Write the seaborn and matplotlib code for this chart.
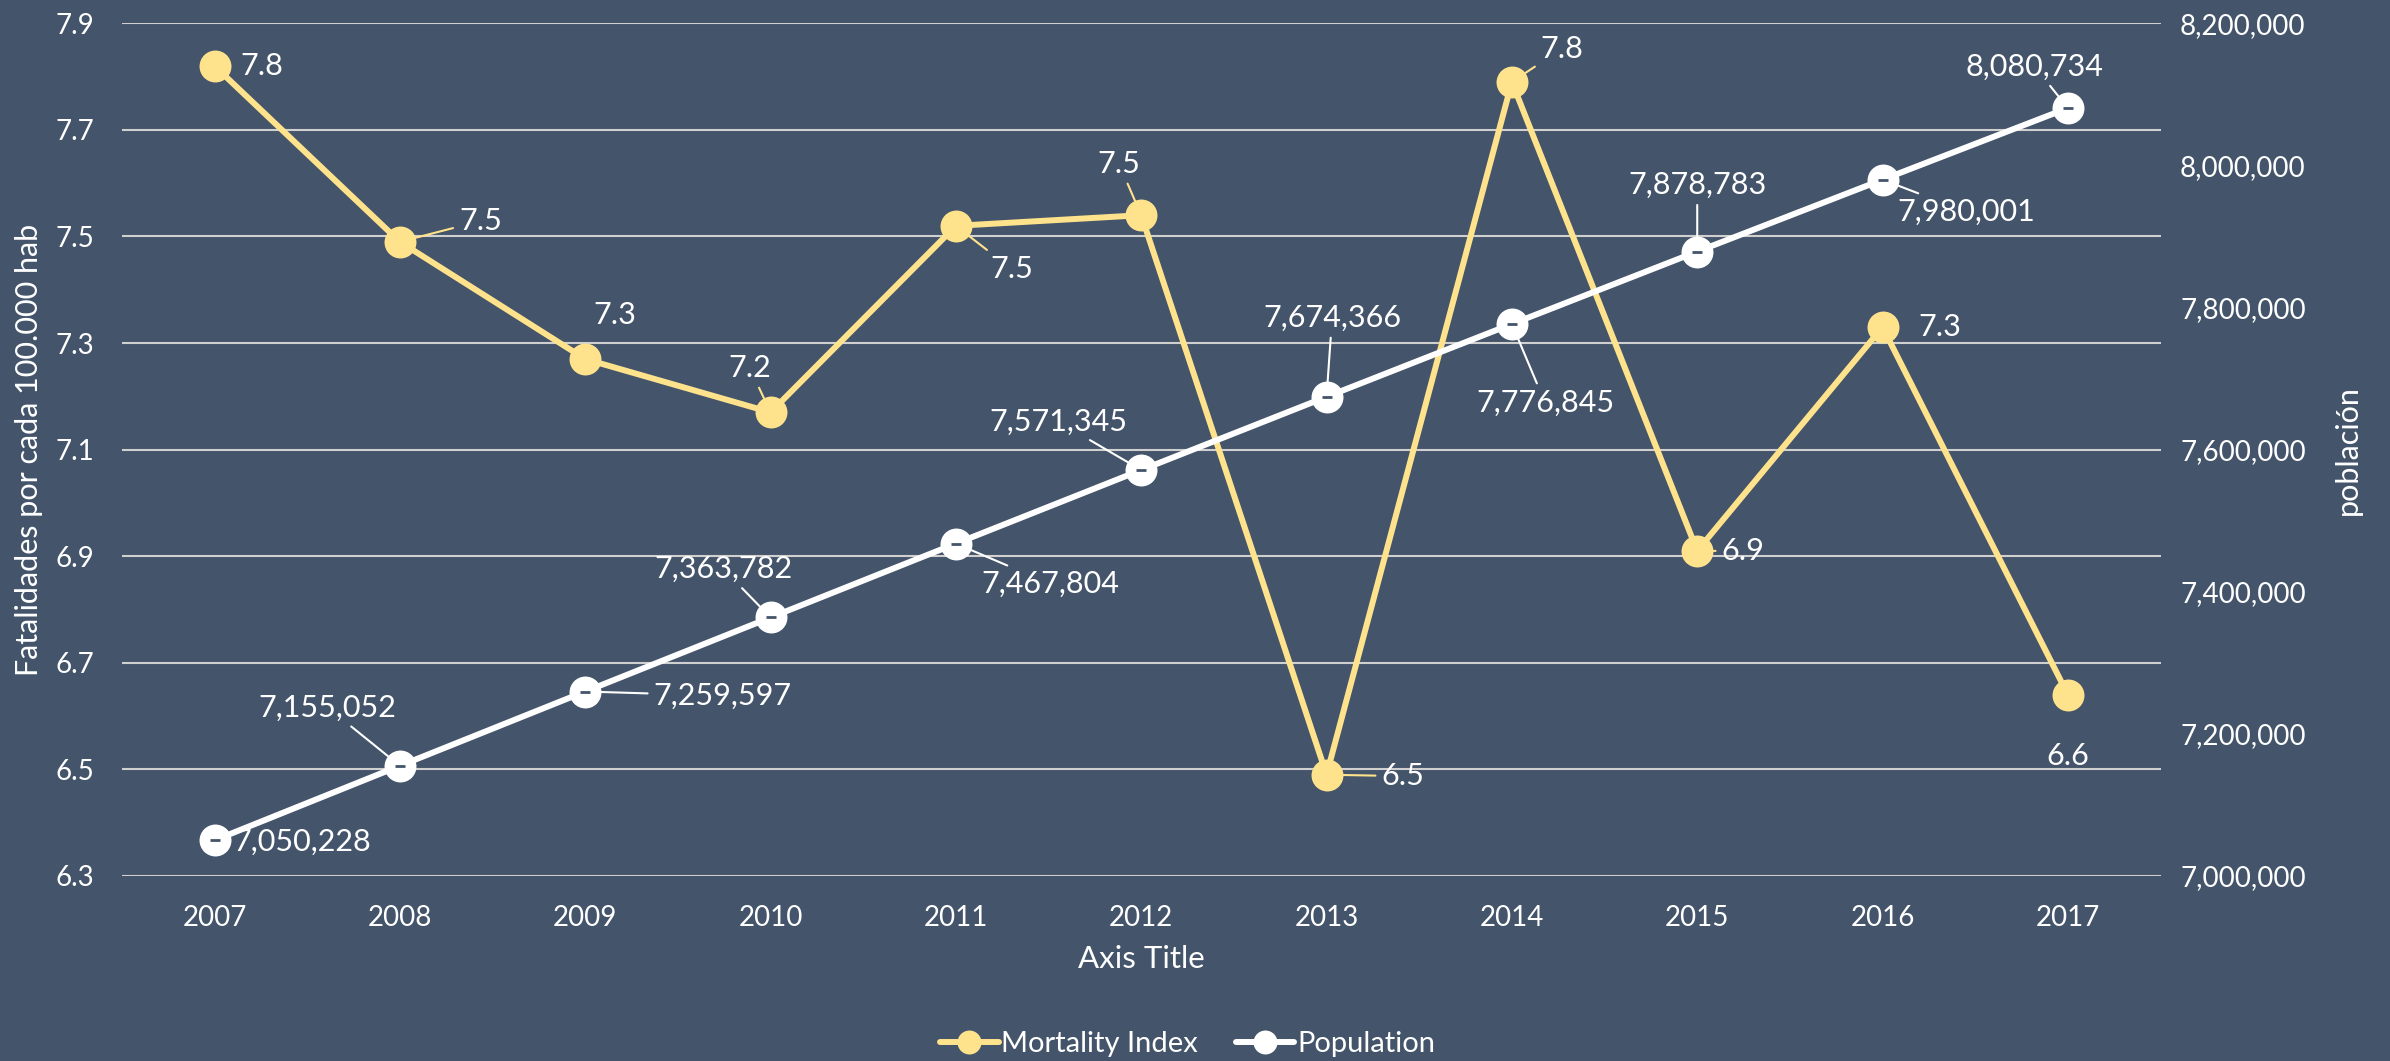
import matplotlib
matplotlib.use("Agg")
import matplotlib.pyplot as plt
import seaborn as sns
import pandas as pd

years = [2007, 2008, 2009, 2010, 2011, 2012, 2013, 2014, 2015, 2016, 2017]
mortality = [7.82, 7.49, 7.27, 7.17, 7.52, 7.54, 6.49, 7.79, 6.91, 7.33, 6.64]
population = [7050228, 7155052, 7259597, 7363782, 7467804, 7571345,
              7674366, 7776845, 7878783, 7980001, 8080734]

# label offsets in points (dx, dy) and whether a leader line is drawn
mort_off = [(34, 0), (58, 15), (21, 32), (-15, 32), (40, -31), (-16, 37),
            (55, -1), (36, 24), (33, 0), (41, 0), (0, -44)]
mort_lead = [False, True, False, True, True, True, True, True, True, False, False]
pop_off = [(63, -1), (-52, 42), (99, -3), (-34, 35), (68, -29), (-60, 35),
           (4, 57), (24, -57), (0, 48), (60, -23), (-24, 30)]
pop_lead = [False, True, True, True, True, True, True, True, True, True, True]

bg = "#44546A"
yellow = "#FFE38C"
white = "#FFFFFF"
grid = "#D0D0D0"

sns.set_style("dark")
plt.rcParams["font.family"] = ["Lato", "DejaVu Sans"]
plt.rcParams["text.color"] = white

df = pd.DataFrame({"year": years, "mortality": mortality, "population": population})

fig = plt.figure(figsize=(23.9, 10.61), dpi=100, facecolor=bg)
ax = fig.add_axes([0.051, 0.1744, 0.853, 0.8036])
ax.set_facecolor(bg)
ax2 = ax.twinx()

sns.lineplot(data=df, x="year", y="mortality", ax=ax, color=yellow, lw=4.3,
             marker="o", markersize=23, markeredgewidth=0, zorder=3,
             label="Mortality Index", legend=False)
sns.lineplot(data=df, x="year", y="population", ax=ax2, color=white, lw=4.3,
             marker="o", markersize=23, markeredgewidth=0, zorder=3,
             label="Population", legend=False)
ax2.plot(df["year"], df["population"], ls="none", marker="_", markersize=7,
         markeredgewidth=2, color=bg, zorder=4)

ax.set_xlim(2006.5, 2017.5)
ax.set_ylim(6.3, 7.9)
ax.set_yticks([6.3 + 0.2 * i for i in range(9)])
ax.set_yticklabels([f"{6.3 + 0.2 * i:.1f}" for i in range(9)])
ax2.set_ylim(7000000, 8200000)
ax2.set_yticks(range(7000000, 8200001, 200000))
ax2.set_yticklabels([f"{v:,}" for v in range(7000000, 8200001, 200000)])
ax.set_xticks(years)
ax.set_xticklabels([str(y) for y in years])

ax.grid(axis="y", color=grid, lw=1.5)
ax.grid(axis="x", visible=False)
ax2.grid(False)
for a in (ax, ax2):
    for s in a.spines.values():
        s.set_visible(False)
ax.set_axisbelow(True)

ax.tick_params(axis="y", length=0, pad=20, labelsize=20, labelcolor=white)
ax.tick_params(axis="x", length=0, pad=21, labelsize=20, labelcolor=white)
ax2.tick_params(axis="y", length=0, pad=14, labelsize=20, labelcolor=white)

ax.set_xlabel("Axis Title", fontsize=22.5, color=white, labelpad=10)
ax.set_ylabel("Fatalidades por cada 100.000 hab", fontsize=22, color=white, labelpad=9)
ax2.set_ylabel("población", fontsize=22, color=white, labelpad=20)

for i, (x, v) in enumerate(zip(years, mortality)):
    ap = dict(arrowstyle="-", color=yellow, lw=1.5, shrinkA=2, shrinkB=11) if mort_lead[i] else None
    ax.annotate(f"{v:.1f}", (x, v), xytext=mort_off[i], textcoords="offset points",
                ha="center", va="center", fontsize=22, color=white,
                arrowprops=ap, zorder=5)

for i, (x, v) in enumerate(zip(years, population)):
    ap = dict(arrowstyle="-", color=white, lw=1.5, shrinkA=2, shrinkB=11) if pop_lead[i] else None
    ax2.annotate(f"{v:,}", (x, v), xytext=pop_off[i], textcoords="offset points",
                 ha="center", va="center", fontsize=22, color=white,
                 arrowprops=ap, zorder=5)

h1, l1 = ax.get_legend_handles_labels()
h2, l2 = ax2.get_legend_handles_labels()
leg = fig.legend(h1 + h2, l1 + l2, loc="center", bbox_to_anchor=(0.497, 0.016),
                 ncol=2, frameon=False, fontsize=21, labelcolor=white,
                 handlelength=2.0, handletextpad=0.1, columnspacing=1.3,
                 markerscale=0.75)

fig.savefig("out.png", dpi=100, facecolor=bg)
